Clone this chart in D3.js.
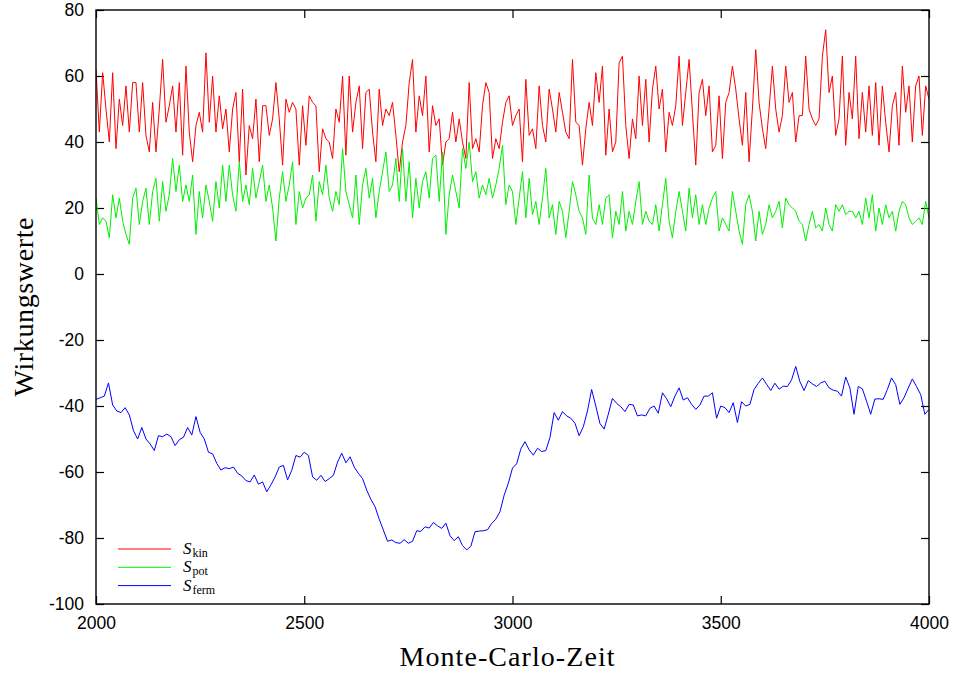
<!DOCTYPE html>
<html>
<head>
<meta charset="utf-8">
<script src="https://cdn.jsdelivr.net/npm/d3@7"></script>
<style>
  body { margin: 0; background: #fff; }
  .tick text { font-family: "Liberation Sans", Arial, sans-serif; font-size: 17.5px; fill: #000; }
  .tick line { stroke: #000; stroke-width: 1.2; }
</style>
</head>
<body>
<div id="chart"></div>
<script>
// Monte-Carlo time axis: all series start at t = 2000
const tStart = 2000;

// S_kin, one value every 8 time units
const kinStep = 8;
const kinValues = [
  62, 43, 61, 50, 40, 61, 38, 53, 45, 57, 43, 58, 58, 43, 58, 42, 37, 52, 37, 50, 65, 46, 51, 57, 43, 58, 36, 63, 43, 34, 45, 49,
  43, 67, 46, 60, 43, 54, 44, 50, 37, 50, 55, 34, 56, 30, 45, 41, 53, 34, 51, 51, 42, 47, 58, 47, 33, 53, 49, 52, 50, 33, 51, 39,
  54, 52, 51, 31, 44, 41, 40, 35, 50, 46, 60, 36, 60, 43, 52, 57, 38, 55, 56, 43, 34, 56, 45, 50, 48, 52, 42, 31, 40, 45, 58, 65,
  43, 54, 48, 60, 37, 51, 45, 47, 33, 40, 41, 49, 40, 47, 40, 35, 58, 38, 41, 37, 51, 58, 55, 35, 41, 38, 46, 52, 54, 45, 48,
  50, 34, 59, 42, 44, 38, 57, 45, 40, 56, 50, 43, 55, 49, 43, 41, 65, 46, 45, 33, 44, 52, 45, 61, 52, 63, 36, 50, 37, 40, 64, 66,
  45, 35, 47, 41, 60, 45, 59, 40, 56, 63, 50, 56, 37, 49, 45, 51, 66, 45, 55, 65, 49, 33, 55, 59, 48, 57, 37, 39, 54, 35, 52,
  55, 63, 56, 47, 39, 55, 34, 50, 68, 52, 44, 38, 50, 63, 50, 43, 48, 63, 52, 55, 40, 48, 48, 66, 50, 47, 45, 47, 66, 74, 55,
  60, 42, 47, 66, 39, 55, 47, 66, 41, 55, 43, 57, 42, 58, 39, 57, 46, 37, 51, 55, 39, 63, 49, 57, 40, 57, 60, 42, 57, 53
];

// S_pot, one value every 8 time units
const potStep = 8;
const potValues = [
  23, 15, 17, 16, 11, 24, 17, 23, 16, 12, 9, 23, 26, 15, 22, 26, 15, 25, 29, 16, 28, 19, 24, 35, 25, 33, 22, 27, 22, 30, 12, 25,
  17, 27, 22, 16, 28, 20, 33, 22, 33, 24, 19, 34, 22, 27, 21, 32, 23, 28, 33, 22, 27, 20, 10, 23, 31, 22, 27, 34, 15, 25, 20, 23,
  24, 30, 16, 28, 24, 33, 23, 19, 25, 21, 38, 25, 21, 17, 30, 15, 27, 32, 23, 29, 17, 25, 31, 37, 25, 27, 35, 22, 38, 22, 34, 17,
  29, 20, 28, 31, 23, 35, 36, 22, 37, 12, 24, 30, 25, 20, 38, 32, 40, 28, 31, 23, 27, 24, 29, 23, 27, 32, 39, 21, 27, 25, 15,
  23, 31, 17, 29, 18, 22, 15, 23, 32, 17, 21, 12, 22, 19, 11, 19, 28, 24, 19, 17, 12, 30, 17, 15, 21, 15, 23, 24, 11, 19, 15, 25,
  13, 19, 15, 22, 28, 15, 19, 16, 15, 21, 13, 21, 29, 16, 11, 19, 25, 19, 13, 26, 17, 24, 15, 21, 15, 20, 23, 25, 13, 17, 15,
  13, 25, 19, 13, 9, 21, 24, 19, 10, 19, 12, 15, 21, 17, 19, 22, 14, 23, 21, 20, 19, 16, 15, 10, 15, 19, 14, 15, 13, 20, 15,
  13, 21, 19, 21, 18, 19, 19, 17, 19, 15, 23, 17, 24, 13, 20, 15, 21, 17, 19, 13, 19, 22, 21, 17, 15, 16, 17, 15, 22, 17
];

// S_ferm, one value every 10 time units
const fermStep = 10;
const fermValues = [
  -38, -37.5, -37, -33, -39.7, -41.5, -42, -40.5, -42.7, -47.5,
  -50, -46.5, -50, -51.5, -53.5, -49, -49.3, -48.5, -49.3, -52,
  -50.2, -49.5, -46.5, -48.8, -43.2, -48, -50, -54, -54.5, -57.4,
  -59.4, -58.7, -59, -58.5, -60.4, -61.2, -62.6, -63, -60.9, -63.7,
  -63, -66, -63.9, -61.5, -58.5, -58, -62.4, -59.5, -55, -55.5,
  -54, -55, -61.5, -62.5, -61, -62.9, -62, -61, -57, -54.3,
  -57.2, -55.4, -58.5, -60.4, -62, -65.5, -68.3, -70.5, -74.3, -77.6,
  -81, -80.6, -81.4, -81.6, -80.5, -81.6, -81, -77.8, -78, -76.6,
  -77, -75.3, -76.3, -77.1, -75.5, -79.3, -80.8, -79.6, -82.3, -83.6,
  -82.5, -78.1, -77.9, -77.8, -77.5, -75.6, -74.3, -72, -67, -63.4,
  -58.8, -57.5, -53, -50.8, -53.3, -54.9, -52.8, -53.8, -53.5, -49.5,
  -42, -44.3, -41.7, -43, -43.7, -45.2, -49, -46.3, -41.5, -35,
  -40, -45.3, -47, -42.5, -37.7, -39.2, -40.2, -41.7, -39.5, -39.7,
  -43, -42.7, -43, -40.7, -40, -42.2, -36, -37.8, -40.2, -37,
  -34.5, -38.2, -37.5, -39.5, -41, -39.7, -37, -37, -36, -43.7,
  -40, -40.5, -42, -39, -45, -38.7, -40, -39.5, -35, -33.1,
  -31.5, -33.4, -35.3, -33.1, -34.9, -34, -34.1, -32.1, -28, -32.6,
  -35.3, -32.3, -33.3, -34.1, -33, -32.5, -34.5, -35.2, -35.5, -37,
  -31.2, -34.5, -42.5, -34.1, -34.8, -38.5, -42.5, -37.9, -37.8, -38,
  -35, -31.5, -33.5, -39.5, -37.5, -34.6, -31.8, -34.1, -36.5, -42.5,
  -41
];

const xTicks = [2000, 2500, 3000, 3500, 4000];
const yTicks = [-100, -80, -60, -40, -20, 0, 20, 40, 60, 80];

const series = [
  { name: "S", sub: "kin", step: kinStep, values: kinValues, color: "#ff0000" },
  { name: "S", sub: "pot", step: potStep, values: potValues, color: "#00f000" },
  { name: "S", sub: "ferm", step: fermStep, values: fermValues, color: "#0000ff" }
];

const serif = "\"Liberation Serif\", \"Times New Roman\", serif";

const width = 957, height = 675;
const margin = { top: 10, right: 28, bottom: 71, left: 96 };
const w = width - margin.left - margin.right;
const h = height - margin.top - margin.bottom;

const svg = d3.select("#chart").append("svg")
  .attr("width", width)
  .attr("height", height);

const g = svg.append("g")
  .attr("transform", `translate(${margin.left},${margin.top})`);

const x = d3.scaleLinear().domain([2000, 4000]).range([0, w]);
const y = d3.scaleLinear().domain([-100, 80]).range([h, 0]);

// axes with inward ticks (gnuplot style), mirrored on top/right
const tickLen = 8;
g.append("g")
  .attr("transform", `translate(0,${h})`)
  .call(d3.axisBottom(x).tickValues(xTicks).tickSize(-tickLen).tickPadding(13).tickFormat(d3.format("d")))
  .call(a => a.select(".domain").remove());
g.append("g")
  .call(d3.axisTop(x).tickValues(xTicks).tickSize(-tickLen).tickFormat(""))
  .call(a => a.select(".domain").remove());
g.append("g")
  .call(d3.axisLeft(y).tickValues(yTicks).tickSize(-tickLen).tickPadding(12).tickFormat(d3.format("d")))
  .call(a => a.select(".domain").remove());
g.append("g")
  .attr("transform", `translate(${w},0)`)
  .call(d3.axisRight(y).tickValues(yTicks).tickSize(-tickLen).tickFormat(""))
  .call(a => a.select(".domain").remove());

// minus signs as plain hyphens like the original
g.selectAll(".tick text").text(function () { return this.textContent.replace("\u2212", "-"); });

// data lines
g.append("clipPath").attr("id", "clip")
  .append("rect").attr("width", w).attr("height", h);

const line = d3.line()
  .x(d => x(d.t))
  .y(d => y(d.v));

series.forEach(s => {
  const pts = s.values.map((v, i) => ({ t: tStart + i * s.step, v: v }));
  g.append("path")
    .datum(pts)
    .attr("clip-path", "url(#clip)")
    .attr("fill", "none")
    .attr("stroke", s.color)
    .attr("stroke-width", 1)
    .attr("stroke-linejoin", "round")
    .attr("d", line);
});

// frame
g.append("rect")
  .attr("width", w)
  .attr("height", h)
  .attr("fill", "none")
  .attr("stroke", "#000")
  .attr("stroke-width", 1.4);

// legend
const legend = g.append("g").attr("transform", "translate(22,539)");
series.forEach((s, i) => {
  const row = legend.append("g").attr("transform", `translate(0,${i * 18.3})`);
  row.append("line")
    .attr("x1", 0).attr("x2", 53)
    .attr("stroke", s.color)
    .attr("stroke-width", 1);
  const txt = row.append("text")
    .attr("x", 65)
    .attr("y", 5)
    .style("font-family", serif)
    .style("font-size", "17px");
  txt.append("tspan").style("font-style", "italic").text(s.name);
  txt.append("tspan").attr("dx", 1).attr("dy", 3).style("font-size", "12px").text(s.sub);
});

// axis titles
svg.append("text")
  .attr("x", 507)
  .attr("y", 666)
  .attr("text-anchor", "middle")
  .attr("textLength", 215)
  .attr("lengthAdjust", "spacing")
  .style("font-family", serif)
  .style("font-size", "28px")
  .text("Monte-Carlo-Zeit");

svg.append("text")
  .attr("transform", "translate(33,307) rotate(-90)")
  .attr("text-anchor", "middle")
  .attr("textLength", 179)
  .attr("lengthAdjust", "spacing")
  .style("font-family", serif)
  .style("font-size", "28px")
  .text("Wirkungswerte");
</script>
</body>
</html>
